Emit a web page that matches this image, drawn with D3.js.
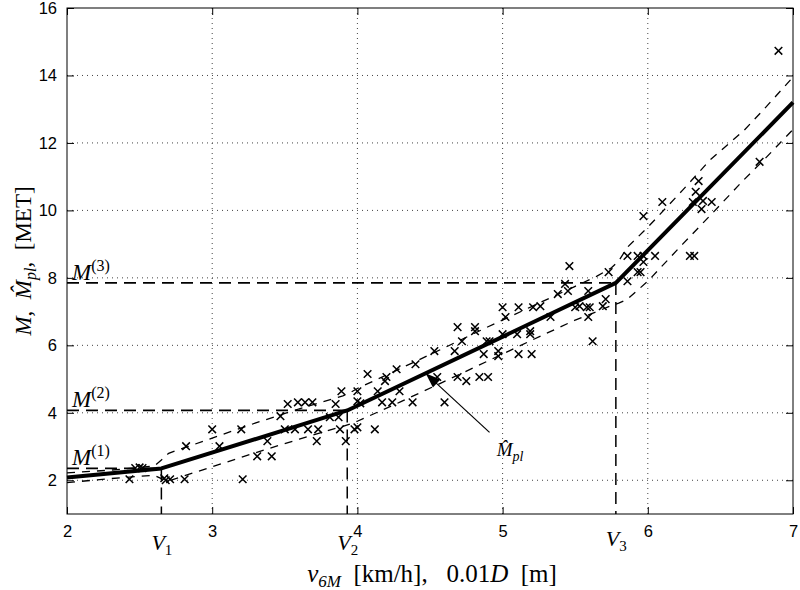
<!DOCTYPE html>
<html><head><meta charset="utf-8">
<script src="https://cdn.jsdelivr.net/npm/d3@7"></script>
<style>
html,body{margin:0;padding:0;background:#fff;}
svg{display:block;}
</style>
</head><body>
<svg id="chart" width="800" height="590"></svg>
<script>
// ---- data ----
const xTicks = [2, 3, 4, 5, 6, 7];
const yTicks = [2, 4, 6, 8, 10, 12, 14, 16];

// measured points (x, y)
const ptX = [2.43,2.47,2.50,2.52,2.67,2.68,2.71,2.81,2.82,3.00,3.05,3.20,3.21,3.31,3.41,3.38,3.47,3.52,3.59,3.64,
  3.69,3.50,3.57,3.66,3.73,3.72,3.81,3.87,3.88,3.85,3.92,3.89,4.00,4.00,4.02,3.98,4.00,4.12,4.17,4.24,
  4.14,4.29,4.07,4.20,4.19,4.27,4.38,4.40,4.53,4.55,4.60,4.67,4.69,4.72,4.69,4.75,4.81,4.81,4.84,4.90,
  4.87,4.89,4.91,4.97,4.97,5.00,5.02,5.00,5.11,5.10,5.11,5.20,5.19,5.19,5.21,5.26,5.33,5.38,5.43,5.45,
  5.46,5.50,5.53,5.58,5.60,5.59,5.59,5.62,5.69,5.71,5.73,5.86,5.93,5.97,6.05,6.29,6.32,5.97,5.93,5.95,
  5.86,5.97,6.10,6.31,6.38,6.44,6.37,6.33,6.35,6.77,6.90];
const ptY = [2.03,2.36,2.38,2.36,2.06,2.00,2.03,2.03,3.01,3.51,3.01,3.51,2.03,2.71,2.71,3.16,3.90,4.26,4.31,4.31,
  4.31,3.51,3.51,3.51,3.51,3.16,3.87,3.87,3.51,4.26,3.16,4.64,4.64,4.34,4.28,3.51,3.57,3.51,4.31,4.31,
  4.64,4.64,5.15,5.06,4.94,5.29,4.31,5.44,5.83,5.06,4.31,5.83,6.54,6.12,5.06,4.94,6.54,6.42,5.06,5.06,
  5.74,6.12,6.12,5.83,5.68,7.13,6.84,6.33,7.13,6.33,5.74,5.74,6.42,6.33,7.13,7.16,6.84,7.52,7.82,7.61,
  8.35,7.13,7.16,7.13,7.13,7.61,6.84,6.12,7.16,7.37,8.17,8.65,8.65,8.65,8.65,8.65,8.65,8.47,8.17,8.17,
  7.90,9.83,10.25,10.25,10.28,10.25,10.04,10.55,10.87,11.44,14.73];

// piecewise-linear fit M_pl
const fitX = [2.00, 2.65, 3.93, 5.78, 7.00];
const fitY = [2.08, 2.35, 4.07, 7.85, 13.20];

// confidence band (dashed)
const bandX = [2.0,2.3,2.6,2.65,2.7,2.8,3.0,3.3,3.6,3.9,3.95,4.0,4.3,4.6,4.9,5.2,5.5,5.65,5.75,5.8,5.86,6.0,6.24,6.43,6.66,6.8,7.0];
const bandUp = [2.22,2.30,2.42,2.60,2.80,2.95,3.25,3.70,4.12,4.50,4.60,4.72,5.32,5.93,6.55,7.15,7.75,8.05,8.30,8.50,8.91,9.50,10.60,11.50,12.36,13.00,13.95];
const bandLo = [1.93,2.05,2.15,2.05,1.98,2.12,2.40,2.82,3.22,3.60,3.67,3.75,4.33,4.93,5.54,6.15,6.75,7.00,7.18,7.25,7.37,7.90,9.00,9.85,10.90,11.50,12.40];

// breakpoints
const breakV = [2.65, 3.93, 5.78];
const breakM = [2.35, 4.07, 7.85];
const breakVNames = ["1", "2", "3"];

// ---- layout ----
const svg = d3.select("#chart");
const L = 67, R = 793, T = 8, B = 514;
const x = d3.scaleLinear().domain([2, 7]).range([L, R]);
const y = d3.scaleLinear().domain([1, 16]).range([B, T]);
const serif = "'Liberation Serif', 'DejaVu Serif', serif";
const sans = "'Liberation Sans', Arial, sans-serif";

// grid
const g = svg.append("g");
g.selectAll(".gx").data(xTicks.filter(d => d > 2 && d < 7)).join("line")
  .attr("x1", d => x(d)).attr("x2", d => x(d)).attr("y1", T).attr("y2", B)
  .attr("stroke", "#444").attr("stroke-width", 1).attr("stroke-dasharray", "1,4");
g.selectAll(".gy").data(yTicks.filter(d => d < 16)).join("line")
  .attr("x1", L).attr("x2", R).attr("y1", d => y(d)).attr("y2", d => y(d))
  .attr("stroke", "#444").attr("stroke-width", 1).attr("stroke-dasharray", "1,4");

// axes with inward ticks (MATLAB style)
const axB = d3.axisBottom(x).tickValues(xTicks).tickSize(-7).tickPadding(11).tickFormat(d3.format("d"));
const axT = d3.axisTop(x).tickValues(xTicks).tickSize(-7).tickFormat("");
const axL = d3.axisLeft(y).tickValues(yTicks).tickSize(-7).tickPadding(10).tickFormat(d3.format("d"));
const axR = d3.axisRight(y).tickValues(yTicks).tickSize(-7).tickFormat("");
function styleAx(sel) {
  sel.select(".domain").remove();
  sel.selectAll("line").attr("stroke", "#000");
  sel.selectAll("text").attr("fill", "#000").style("font-family", sans).style("font-size", "16.5px");
}
svg.append("g").attr("transform", `translate(0,${B})`).call(axB).call(styleAx);
svg.append("g").attr("transform", `translate(0,${T})`).call(axT).call(styleAx);
svg.append("g").attr("transform", `translate(${L},0)`).call(axL).call(styleAx);
svg.append("g").attr("transform", `translate(${R},0)`).call(axR).call(styleAx);
svg.append("rect").attr("x", L).attr("y", T).attr("width", R - L).attr("height", B - T)
  .attr("fill", "none").attr("stroke", "#000").attr("stroke-width", 1);

// reference lines
breakV.forEach((v, i) => {
  svg.append("path")
    .attr("d", d3.line()([[x(2), y(breakM[i])], [x(v), y(breakM[i])]]))
    .attr("stroke", "#000").attr("stroke-width", 1.8).attr("stroke-dasharray", "12,7").attr("fill", "none");
  svg.append("path")
    .attr("d", d3.line()([[x(v), y(breakM[i])], [x(v), y(1)]]))
    .attr("stroke", "#000").attr("stroke-width", 1.5).attr("stroke-dasharray", "12,7").attr("fill", "none");
});

// bands
const bandLine = d3.line().x(d => x(d[0])).y(d => y(d[1]));
[bandUp, bandLo].forEach(arr => {
  svg.append("path").datum(bandX.map((v, i) => [v, arr[i]]))
    .attr("d", bandLine).attr("fill", "none").attr("stroke", "#000")
    .attr("stroke-width", 1.3).attr("stroke-dasharray", "8,7");
});

// markers
svg.append("g").selectAll("path").data(ptX.map((v, i) => [v, ptY[i]])).join("path")
  .attr("d", d => {
    const cx = x(d[0]), cy = y(d[1]), s = 3.8;
    return `M${cx - s},${cy - s}L${cx + s},${cy + s}M${cx - s},${cy + s}L${cx + s},${cy - s}`;
  })
  .attr("stroke", "#000").attr("stroke-width", 1.5).attr("fill", "none");

// fit line
svg.append("path").datum(fitX.map((v, i) => [v, fitY[i]]))
  .attr("d", bandLine).attr("fill", "none").attr("stroke", "#000")
  .attr("stroke-width", 4).attr("stroke-linejoin", "round");

// arrow annotation
const ax0 = x(4.91), ay0 = y(3.42), ax1 = x(4.47), ay1 = y(5.17);
svg.append("line").attr("x1", ax0).attr("y1", ay0).attr("x2", ax1).attr("y2", ay1)
  .attr("stroke", "#000").attr("stroke-width", 1.2);
{
  const ang = Math.atan2(ay1 - ay0, ax1 - ax0), len = 15, w = 5.5;
  const bx = ax1 - len * Math.cos(ang), by = ay1 - len * Math.sin(ang);
  const px = -Math.sin(ang) * w, py = Math.cos(ang) * w;
  svg.append("path").attr("d", `M${ax1},${ay1}L${bx + px},${by + py}L${bx - px},${by - py}Z`).attr("fill", "#000");
}
const lab = svg.append("text").attr("x", x(4.96)).attr("y", y(2.72))
  .style("font-family", serif).style("font-size", "19px").style("font-style", "italic");
lab.append("tspan").text("M\u0302");
lab.append("tspan").attr("dy", 5).style("font-size", "14px").text("pl");

// M labels
breakM.forEach((m, i) => {
  const t = svg.append("text").attr("x", 72).attr("y", y(m) - 3)
    .style("font-family", serif).style("font-size", "23px");
  t.append("tspan").style("font-style", "italic").text("M");
  t.append("tspan").attr("dy", -9).style("font-size", "16px").text(`(${i + 1})`);
});

// V labels
breakV.forEach((v, i) => {
  const t = svg.append("text").attr("x", x(v) - 10).attr("y", i === 2 ? 546 : 550)
    .style("font-family", serif).style("font-size", "22px");
  t.append("tspan").style("font-style", "italic").text("V");
  t.append("tspan").attr("dy", 5).style("font-size", "15px").text(breakVNames[i]);
});

// x label
const xl = svg.append("text").attr("x", 432).attr("y", 582).attr("text-anchor", "middle")
  .style("font-family", serif).style("font-size", "25px");
xl.append("tspan").style("font-style", "italic").text("v");
xl.append("tspan").attr("dy", 5).style("font-size", "17px").style("font-style", "italic").text("6M");
xl.append("tspan").attr("dy", -5).text("\u00a0\u00a0[km/h],\u00a0\u00a0 0.01");
xl.append("tspan").style("font-style", "italic").text("D");
xl.append("tspan").text("\u00a0\u00a0[m]");

// y label
const yl = svg.append("text").attr("transform", "translate(31,261) rotate(-90)").attr("text-anchor", "middle")
  .style("font-family", serif).style("font-size", "23px");
yl.append("tspan").style("font-style", "italic").text("M");
yl.append("tspan").text(",\u2002");
yl.append("tspan").style("font-style", "italic").text("M\u0302");
yl.append("tspan").attr("dy", 5).style("font-size", "16px").style("font-style", "italic").text("pl");
yl.append("tspan").attr("dy", -5).text(",\u2002[MET]");
</script>
</body></html>
